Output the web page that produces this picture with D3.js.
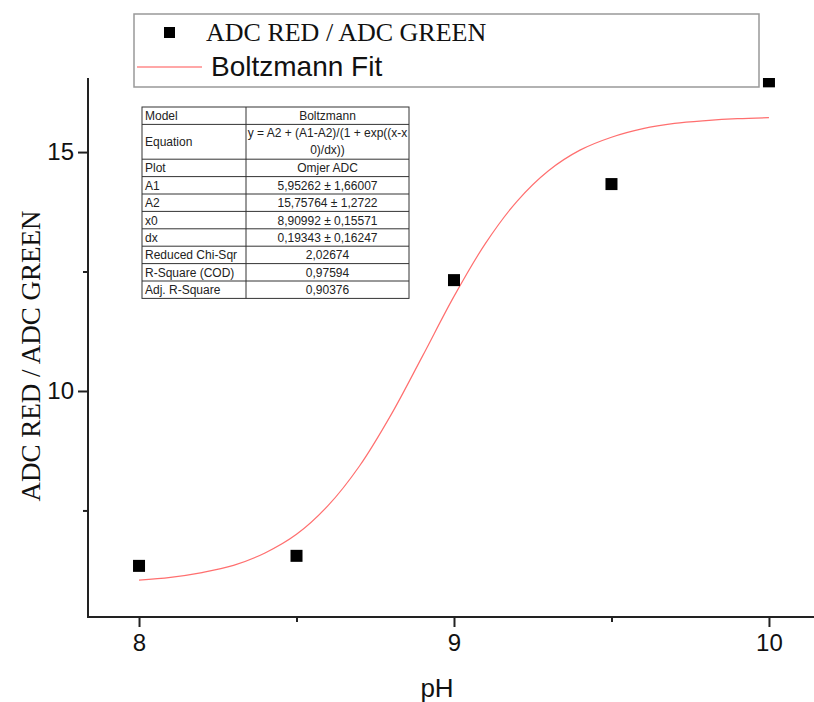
<!DOCTYPE html>
<html>
<head>
<meta charset="utf-8">
<script src="https://cdn.jsdelivr.net/npm/d3@7"></script>
<style>
  html, body { margin: 0; padding: 0; background: #fff; }
  svg { display: block; }
</style>
</head>
<body>
<svg id="chart" width="814" height="702"></svg>
<script>
// ---- data ----
const phValues = [8.0, 8.5, 9.0, 9.5, 10.0];
const ratioValues = [6.34, 6.55, 12.32, 14.33, 16.48];

const fitPh = [8.0, 8.1, 8.2, 8.3, 8.4, 8.5, 8.6, 8.7, 8.8, 8.9, 9.0,
               9.1, 9.2, 9.3, 9.4, 9.5, 9.6, 9.7, 9.8, 9.9, 10.0];
const fitRatio = [6.04, 6.10, 6.20, 6.35, 6.61, 7.00, 7.60, 8.43, 9.50, 10.73, 11.98,
                  13.09, 13.97, 14.61, 15.04, 15.31, 15.49, 15.60, 15.66, 15.70, 15.72];

const xMajorTicks = [8, 9, 10];
const xMinorTicks = [8.5, 9.5];
const yMajorTicks = [10, 15];
const yMinorTicks = [7.5, 12.5];

const legendLabels = ["ADC RED / ADC GREEN", "Boltzmann Fit"];
const xTitle = "pH";
const yTitle = "ADC RED / ADC GREEN";

const tableLabels = ["Model", "Equation", "Plot", "A1", "A2", "x0", "dx",
                     "Reduced Chi-Sqr", "R-Square (COD)", "Adj. R-Square"];
const tableValues = [["Boltzmann"], ["y = A2 + (A1-A2)/(1 + exp((x-x", "0)/dx))"], ["Omjer ADC"],
                     ["5,95262 ± 1,66007"], ["15,75764 ± 1,2722"], ["8,90992 ± 0,15571"],
                     ["0,19343 ± 0,16247"], ["2,02674"], ["0,97594"], ["0,90376"]];

// ---- layout ----
const svg = d3.select("#chart");
const pL = 88, pR = 814, pT = 78, pB = 617;

const x = d3.scaleLinear().domain([7.838, 10.143]).range([pL, pR]);
const y = d3.scaleLinear().domain([5.27, 16.55]).range([pB, pT]);

const axisColor = "#222";
const sans = "'Liberation Sans', Arial, sans-serif";
const serif = "'Liberation Serif', 'Times New Roman', serif";

// clip
svg.append("defs").append("clipPath").attr("id", "plotclip")
  .append("rect").attr("x", pL).attr("y", pT).attr("width", pR - pL).attr("height", pB - pT);

const plot = svg.append("g").attr("clip-path", "url(#plotclip)");

// fit curve
const line = d3.line()
  .x(d => x(d[0])).y(d => y(d[1]))
  .curve(d3.curveCatmullRom.alpha(0.5));
plot.append("path")
  .datum(fitPh.map((p, i) => [p, fitRatio[i]]))
  .attr("d", line)
  .attr("fill", "none")
  .attr("stroke", "#ff6f6f")
  .attr("stroke-width", 1.2);

// data points
const ms = 12;
plot.selectAll("rect.pt")
  .data(phValues.map((p, i) => [p, ratioValues[i]]))
  .join("rect")
  .attr("class", "pt")
  .attr("x", d => x(d[0]) - ms / 2)
  .attr("y", d => y(d[1]) - ms / 2)
  .attr("width", ms).attr("height", ms)
  .attr("fill", "#000");

// axes
const xAxisG = svg.append("g").attr("transform", `translate(0,${pB})`);
xAxisG.call(d3.axisBottom(x).tickValues(xMajorTicks).tickSize(10).tickPadding(7).tickFormat(d3.format("d")));
const xMinorG = svg.append("g").attr("transform", `translate(0,${pB})`);
xMinorG.call(d3.axisBottom(x).tickValues(xMinorTicks).tickSize(5).tickFormat(""));

const yAxisG = svg.append("g").attr("transform", `translate(${pL},0)`);
yAxisG.call(d3.axisLeft(y).tickValues(yMajorTicks).tickSize(10).tickPadding(4).tickFormat(d3.format("d")));
const yMinorG = svg.append("g").attr("transform", `translate(${pL},0)`);
yMinorG.call(d3.axisLeft(y).tickValues(yMinorTicks).tickSize(5).tickFormat(""));

[xAxisG, xMinorG, yAxisG, yMinorG].forEach(g => {
  g.select(".domain").attr("stroke", axisColor).attr("stroke-width", 2);
  g.selectAll(".tick line").attr("stroke", axisColor).attr("stroke-width", 2);
  g.selectAll(".tick text").attr("fill", "#111").style("font-family", sans).style("font-size", "24px");
});
xAxisG.select(".domain").attr("d", `M${pL},0H${pR}`);
xMinorG.select(".domain").remove();
yAxisG.select(".domain").attr("d", `M0,${pT}V${pB + 1}`);
yMinorG.select(".domain").remove();

// axis titles
svg.append("text")
  .attr("x", 437).attr("y", 697)
  .attr("text-anchor", "middle")
  .style("font-family", sans).style("font-size", "26px").attr("fill", "#111")
  .text(xTitle);

svg.append("text")
  .attr("transform", "translate(40,356) rotate(-90)")
  .attr("text-anchor", "middle")
  .style("font-family", serif).style("font-size", "27px").attr("fill", "#111")
  .text(yTitle);

// legend
const lg = svg.append("g");
lg.append("rect")
  .attr("x", 134).attr("y", 14).attr("width", 625).attr("height", 73)
  .attr("fill", "#fff").attr("stroke", "#999").attr("stroke-width", 1.5);
lg.append("rect")
  .attr("x", 164).attr("y", 27).attr("width", 11).attr("height", 11).attr("fill", "#000");
lg.append("text")
  .attr("x", 206).attr("y", 41)
  .style("font-family", serif).style("font-size", "26px").attr("fill", "#111")
  .text(legendLabels[0]);
lg.append("line")
  .attr("x1", 137).attr("x2", 202).attr("y1", 67).attr("y2", 67)
  .attr("stroke", "#ff8a8a").attr("stroke-width", 1.3);
lg.append("text")
  .attr("x", 211).attr("y", 76)
  .style("font-family", sans).style("font-size", "28px").attr("fill", "#111")
  .text(legendLabels[1]);

// parameter table
const tX0 = 142, tX1 = 246, tX2 = 409, tY0 = 107, rowH = 17.4;
const rowUnits = tableLabels.map((l, i) => tableValues[i].length);
const tg = svg.append("g");
let cy = tY0;
const rowTops = rowUnits.map(u => { const t = cy; cy += u * rowH; return t; });
const tY1 = cy;
tg.append("rect").attr("x", tX0).attr("y", tY0).attr("width", tX2 - tX0).attr("height", tY1 - tY0)
  .attr("fill", "#fff").attr("stroke", "#333").attr("stroke-width", 1);
tg.append("line").attr("x1", tX1).attr("x2", tX1).attr("y1", tY0).attr("y2", tY1)
  .attr("stroke", "#333").attr("stroke-width", 1);
tableLabels.forEach((lab, i) => {
  const t = rowTops[i], h = rowUnits[i] * rowH;
  if (i > 0) {
    tg.append("line").attr("x1", tX0).attr("x2", tX2).attr("y1", t).attr("y2", t)
      .attr("stroke", "#333").attr("stroke-width", 1);
  }
  tg.append("text").attr("x", tX0 + 3).attr("y", t + h / 2 + 4.5)
    .style("font-family", sans).style("font-size", "12px").attr("fill", "#222")
    .text(lab);
  const vals = tableValues[i];
  vals.forEach((v, j) => {
    tg.append("text").attr("x", (tX1 + tX2) / 2)
      .attr("y", t + rowH * j + rowH / 2 + 4.5 - (vals.length > 1 ? 1 : 0))
      .attr("text-anchor", "middle")
      .style("font-family", sans).style("font-size", "12px").attr("fill", "#222")
      .text(v);
  });
});
</script>
</body>
</html>
